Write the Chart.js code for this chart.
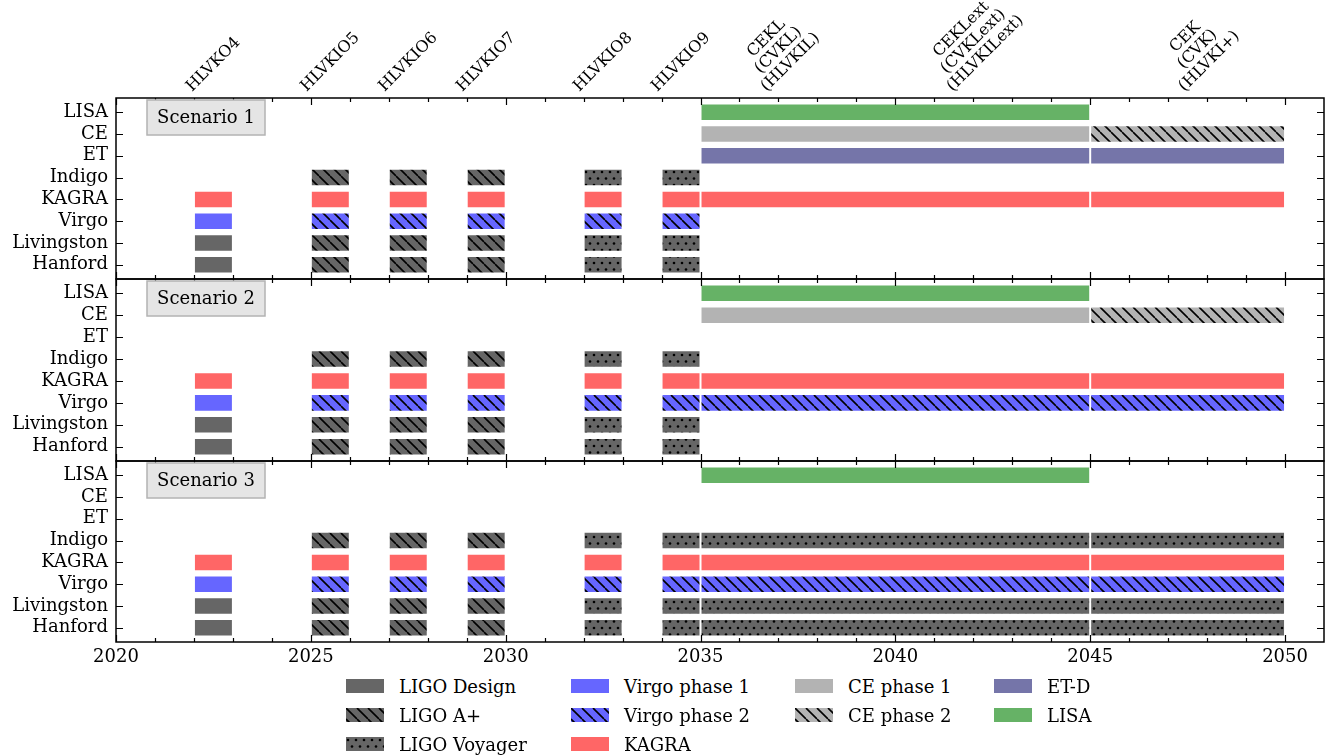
<!DOCTYPE html>
<html>
<head>
<meta charset="utf-8">
<script src="https://cdn.jsdelivr.net/npm/chart.js@4"></script>
<style>
  body { margin: 0; background: #fff; width: 1337px; height: 755px; position: relative; overflow: hidden; font-family: 'DejaVu Serif', serif; }
  canvas.panel { position: absolute; left: 0; }
  .leg { position: absolute; display: flex; align-items: center; height: 14px; font-size: 18px; white-space: nowrap; color: #000; }
  .leg canvas { margin-right: 15px; }
</style>
</head>
<body>
<canvas id="panel1" class="panel" width="1337" height="280" style="top:0"></canvas>
<canvas id="panel2" class="panel" width="1337" height="192" style="top:274px"></canvas>
<canvas id="panel3" class="panel" width="1337" height="219" style="top:456px"></canvas>
<div id="legend"></div>
<script>
// rows from bottom to top
const detectors = ['Hanford', 'Livingston', 'Virgo', 'KAGRA', 'Indigo', 'ET', 'CE', 'LISA'];

const runLabels = [['HLVKO4'], ['HLVKIO5'], ['HLVKIO6'], ['HLVKIO7'], ['HLVKIO8'], ['HLVKIO9'],
  ['CEKL', '(CVKL)', '(HLVKIL)'], ['CEKLext', '(CVKLext)', '(HLVKILext)'], ['CEK', '(CVK)', '(HLVKI+)']];
const runLabelYears = [2022.5, 2025.5, 2027.5, 2029.5, 2032.5, 2034.5, 2037, 2042, 2047.75];

const styles = ['LIGO Design', 'LIGO A+', 'LIGO Voyager', 'Virgo phase 1', 'Virgo phase 2', 'KAGRA',
  'CE phase 1', 'CE phase 2', 'ET-D', 'LISA'];

// [detector, start, end, style]
const earlyRuns = [
  ['Hanford', 2022, 2023, 'LIGO Design'], ['Livingston', 2022, 2023, 'LIGO Design'],
  ['Virgo', 2022, 2023, 'Virgo phase 1'], ['KAGRA', 2022, 2023, 'KAGRA'],
  ['Hanford', 2025, 2026, 'LIGO A+'], ['Livingston', 2025, 2026, 'LIGO A+'], ['Virgo', 2025, 2026, 'Virgo phase 2'],
  ['KAGRA', 2025, 2026, 'KAGRA'], ['Indigo', 2025, 2026, 'LIGO A+'],
  ['Hanford', 2027, 2028, 'LIGO A+'], ['Livingston', 2027, 2028, 'LIGO A+'], ['Virgo', 2027, 2028, 'Virgo phase 2'],
  ['KAGRA', 2027, 2028, 'KAGRA'], ['Indigo', 2027, 2028, 'LIGO A+'],
  ['Hanford', 2029, 2030, 'LIGO A+'], ['Livingston', 2029, 2030, 'LIGO A+'], ['Virgo', 2029, 2030, 'Virgo phase 2'],
  ['KAGRA', 2029, 2030, 'KAGRA'], ['Indigo', 2029, 2030, 'LIGO A+'],
  ['Hanford', 2032, 2033, 'LIGO Voyager'], ['Livingston', 2032, 2033, 'LIGO Voyager'], ['Virgo', 2032, 2033, 'Virgo phase 2'],
  ['KAGRA', 2032, 2033, 'KAGRA'], ['Indigo', 2032, 2033, 'LIGO Voyager'],
  ['Hanford', 2034, 2035, 'LIGO Voyager'], ['Livingston', 2034, 2035, 'LIGO Voyager'], ['Virgo', 2034, 2035, 'Virgo phase 2'],
  ['KAGRA', 2034, 2035, 'KAGRA'], ['Indigo', 2034, 2035, 'LIGO Voyager']
];

const scenario1Late = [
  ['LISA', 2035, 2045, 'LISA'],
  ['CE', 2035, 2045, 'CE phase 1'], ['CE', 2045, 2050, 'CE phase 2'],
  ['ET', 2035, 2045, 'ET-D'], ['ET', 2045, 2050, 'ET-D'],
  ['KAGRA', 2035, 2045, 'KAGRA'], ['KAGRA', 2045, 2050, 'KAGRA']
];
const scenario2Late = [
  ['LISA', 2035, 2045, 'LISA'],
  ['CE', 2035, 2045, 'CE phase 1'], ['CE', 2045, 2050, 'CE phase 2'],
  ['KAGRA', 2035, 2045, 'KAGRA'], ['KAGRA', 2045, 2050, 'KAGRA'],
  ['Virgo', 2035, 2045, 'Virgo phase 2'], ['Virgo', 2045, 2050, 'Virgo phase 2']
];
const scenario3Late = [
  ['LISA', 2035, 2045, 'LISA'],
  ['Indigo', 2035, 2045, 'LIGO Voyager'], ['Indigo', 2045, 2050, 'LIGO Voyager'],
  ['KAGRA', 2035, 2045, 'KAGRA'], ['KAGRA', 2045, 2050, 'KAGRA'],
  ['Virgo', 2035, 2045, 'Virgo phase 2'], ['Virgo', 2045, 2050, 'Virgo phase 2'],
  ['Livingston', 2035, 2045, 'LIGO Voyager'], ['Livingston', 2045, 2050, 'LIGO Voyager'],
  ['Hanford', 2035, 2045, 'LIGO Voyager'], ['Hanford', 2045, 2050, 'LIGO Voyager']
];

const X_MIN = 2020, X_MAX = 2051;

Chart.defaults.font.family = "'DejaVu Serif', serif";
Chart.defaults.font.size = 18;
Chart.defaults.color = '#000';

// colour + hatch for every style
const looks = {
  'LIGO Design': ['#666666', null], 'LIGO A+': ['#666666', 'lines'], 'LIGO Voyager': ['#666666', 'dots'],
  'Virgo phase 1': ['#6666ff', null], 'Virgo phase 2': ['#6666ff', 'lines'], 'KAGRA': ['#ff6666', null],
  'CE phase 1': ['#b3b3b3', null], 'CE phase 2': ['#b3b3b3', 'lines'], 'ET-D': ['#7575a9', null], 'LISA': ['#66b266', null]
};

function makeTile(bg, kind) {
  const t = document.createElement('canvas');
  const w = kind === 'dots' ? 8 : 11, h = kind === 'dots' ? 13 : 11;
  t.width = w; t.height = h;
  const c = t.getContext('2d');
  c.fillStyle = bg; c.fillRect(0, 0, w, h);
  c.fillStyle = '#000'; c.strokeStyle = '#000';
  if (kind === 'lines') {
    c.lineWidth = 1.6;
    c.beginPath();
    for (let o = -w; o <= w; o += w) { c.moveTo(o, 0); c.lineTo(o + w, h); }
    c.stroke();
  } else {
    c.beginPath(); c.arc(2, 3, 1.3, 0, Math.PI * 2); c.fill();
    c.beginPath(); c.arc(6, 9.5, 1.3, 0, Math.PI * 2); c.fill();
  }
  return t;
}

function fillFor(style, ctx) {
  const [bg, kind] = looks[style];
  if (!kind) return bg;
  return ctx.createPattern(makeTile(bg, kind), 'repeat');
}

const panelDeco = {
  id: 'panelDeco',
  afterDatasetsDraw(chart, args, opts) {
    const { ctx, chartArea: a, scales: { x, y } } = chart;
    ctx.save();
    ctx.strokeStyle = '#000';
    ctx.lineWidth = 1.2;
    ctx.beginPath();
    for (let yr = X_MIN; yr <= 2050; yr++) {
      const px = Math.round(x.getPixelForValue(yr)) + 0.5;
      const len = yr % 5 === 0 ? 7 : 4;
      ctx.moveTo(px, a.top); ctx.lineTo(px, a.top + len);
      ctx.moveTo(px, a.bottom); ctx.lineTo(px, a.bottom - len);
    }
    detectors.forEach((d, i) => {
      const py = Math.round(y.getPixelForValue(i)) + 0.5;
      ctx.moveTo(a.left, py); ctx.lineTo(a.left + 7, py);
      ctx.moveTo(a.right, py); ctx.lineTo(a.right - 7, py);
    });
    ctx.stroke();
    ctx.lineWidth = 1.5;
    ctx.strokeRect(a.left, a.top, a.right - a.left, a.bottom - a.top);

    // scenario box
    const bx = a.left + 31, by = a.top + 2, bw = 118, bh = 35;
    ctx.fillStyle = '#e5e5e5';
    ctx.fillRect(bx, by, bw, bh);
    ctx.strokeStyle = '#b3b3b3';
    ctx.strokeRect(bx, by, bw, bh);
    ctx.fillStyle = '#000';
    ctx.font = "18px 'DejaVu Serif'";
    ctx.textAlign = 'center';
    ctx.textBaseline = 'middle';
    ctx.fillText(opts.title, bx + bw / 2, by + bh / 2 + 1);

    // rotated run labels above the first panel
    if (opts.runLabels) {
      ctx.font = "16px 'DejaVu Serif'";
      const lh = 17;
      runLabels.forEach((lines, i) => {
        const W = Math.max(...lines.map(l => ctx.measureText(l).width));
        const H = lines.length * lh;
        const side = (W + H) * Math.SQRT1_2;
        const cx = x.getPixelForValue(runLabelYears[i]);
        const cy = a.top - 3 - side / 2;
        ctx.save();
        ctx.translate(cx, cy);
        ctx.rotate(-Math.PI / 4);
        lines.forEach((l, k) => ctx.fillText(l, 0, -H / 2 + lh * (k + 0.5)));
        ctx.restore();
      });
    }
    ctx.restore();
  }
};

function makePanel(id, bars, title, opts) {
  const canvas = document.getElementById(id);
  const ctx = canvas.getContext('2d');
  const datasets = styles.map(s => ({
    label: s,
    data: bars.filter(b => b[3] === s).map(b => ({ x: [b[1], b[2]], y: detectors.indexOf(b[0]) })),
    backgroundColor: fillFor(s, ctx),
    borderColor: '#ffffff',
    borderWidth: 1,
    borderSkipped: false,
    grouped: false,
    categoryPercentage: 1,
    barPercentage: 0.8
  }));
  return new Chart(canvas, {
    type: 'bar',
    data: { datasets },
    options: {
      indexAxis: 'y',
      responsive: false,
      animation: false,
      layout: { padding: { top: opts.padTop, bottom: opts.padBottom, left: 0, right: 13 } },
      plugins: {
        legend: { display: false },
        tooltip: { enabled: false },
        panelDeco: { title, runLabels: opts.runLabels }
      },
      scales: {
        x: {
          type: 'linear', min: X_MIN, max: X_MAX,
          display: opts.showX,
          grid: { display: false, drawTicks: false }, border: { display: false },
          ticks: { stepSize: 5, includeBounds: false, maxRotation: 0, padding: 5, callback: v => String(v) },
          afterFit: s => { if (opts.showX) s.height = 33; s.paddingLeft = 0; s.paddingRight = 0; }
        },
        y: {
          type: 'linear', min: -0.65, max: 7.65, offset: false,
          grid: { display: false, drawTicks: false, offset: false }, border: { display: false },
          afterBuildTicks: s => { s.ticks = detectors.map((d, i) => ({ value: i })); },
          ticks: { autoSkip: false, padding: 8, callback: v => detectors[v] },
          afterFit: s => { s.width = 116; s.paddingTop = 0; s.paddingBottom = 0; }
        }
      }
    },
    plugins: [panelDeco]
  });
}

makePanel('panel1', earlyRuns.concat(scenario1Late), 'Scenario 1', { padTop: 98, padBottom: 1, showX: false, runLabels: true });
makePanel('panel2', earlyRuns.concat(scenario2Late), 'Scenario 2', { padTop: 5, padBottom: 5, showX: false, runLabels: false });
makePanel('panel3', earlyRuns.concat(scenario3Late), 'Scenario 3', { padTop: 5, padBottom: 0, showX: true, runLabels: false });

// legend, column by column
const legendCols = [346, 571, 795, 994];
const legendRows = [679, 708, 737];
const legendEl = document.getElementById('legend');
styles.forEach((s, i) => {
  const col = i < 3 ? 0 : i < 6 ? 1 : i < 8 ? 2 : 3;
  const row = i < 3 ? i : i < 6 ? i - 3 : i < 8 ? i - 6 : i - 8;
  const item = document.createElement('div');
  item.className = 'leg';
  item.style.left = legendCols[col] + 'px';
  item.style.top = legendRows[row] + 'px';
  const sw = document.createElement('canvas');
  sw.width = 38; sw.height = 14;
  const sc = sw.getContext('2d');
  sc.fillStyle = fillFor(s, sc);
  sc.fillRect(0, 0, 38, 14);
  const tx = document.createElement('span');
  tx.textContent = s;
  item.appendChild(sw);
  item.appendChild(tx);
  legendEl.appendChild(item);
});
</script>
</body>
</html>
